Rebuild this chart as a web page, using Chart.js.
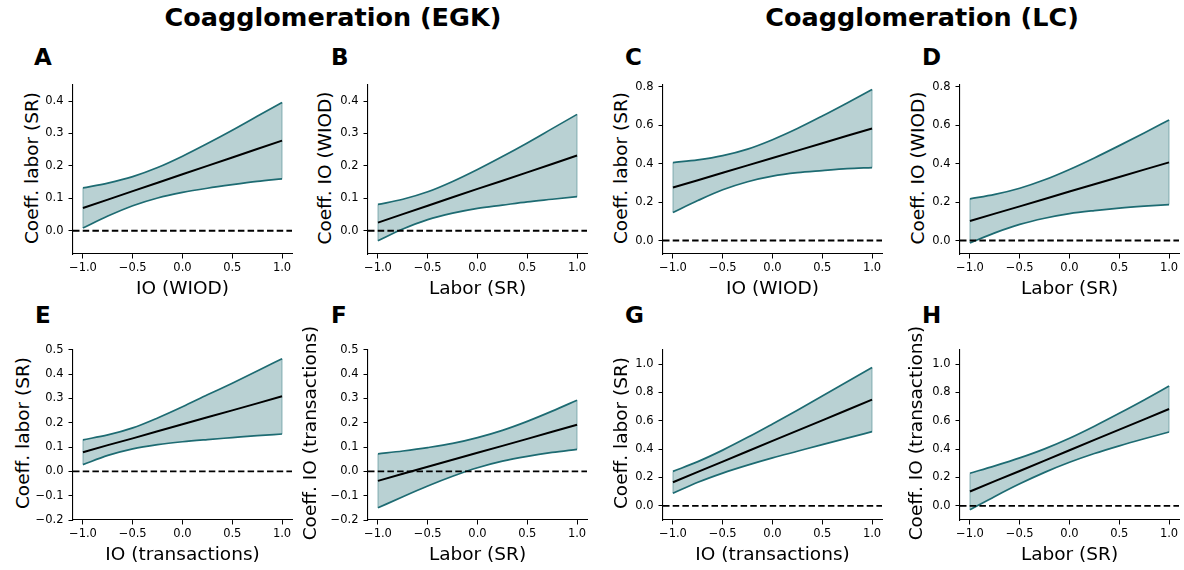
<!DOCTYPE html>
<html>
<head>
<meta charset="utf-8">
<script src="https://cdn.jsdelivr.net/npm/chart.js@4.4.1/dist/chart.umd.min.js"></script>
<style>
  html, body { margin: 0; padding: 0; background: #fff; }
  body { width: 1184px; height: 570px; position: relative; overflow: hidden; font-family: "DejaVu Sans", sans-serif; color: #000; }
  canvas { position: absolute; }
  .title { position: absolute; font-weight: bold; font-size: 25.5px; line-height: 1; white-space: nowrap; transform: translateX(-50%); }
  .letter { position: absolute; font-weight: bold; font-size: 23px; line-height: 1; }
  .ylab { position: absolute; width: 0; height: 0; }
  .ylab span { position: absolute; left: 0; top: 0; white-space: nowrap; font-size: 18.5px; line-height: 1; transform: translate(-50%, -50%) rotate(-90deg); }
</style>
</head>
<body>
<script>
// ---------- data ----------
const xVals = [-1, -0.75, -0.5, -0.25, 0, 0.25, 0.5, 0.75, 1];

const meanA  = [0.070, 0.096, 0.122, 0.148, 0.174, 0.200, 0.226, 0.252, 0.278];
const upperA = [0.132, 0.147, 0.167, 0.195, 0.230, 0.269, 0.310, 0.353, 0.396];
const lowerA = [0.008, 0.045, 0.077, 0.101, 0.118, 0.131, 0.142, 0.152, 0.160];

const meanB  = [0.025, 0.051, 0.077, 0.103, 0.129, 0.154, 0.180, 0.206, 0.232];
const upperB = [0.081, 0.097, 0.120, 0.152, 0.189, 0.229, 0.271, 0.315, 0.359];
const lowerB = [-0.031, 0.005, 0.034, 0.054, 0.069, 0.079, 0.089, 0.097, 0.105];

const meanC  = [0.276, 0.314, 0.353, 0.391, 0.430, 0.468, 0.506, 0.545, 0.583];
const upperC = [0.406, 0.420, 0.442, 0.476, 0.525, 0.583, 0.648, 0.716, 0.786];
const lowerC = [0.146, 0.208, 0.264, 0.306, 0.335, 0.353, 0.364, 0.374, 0.380];

const meanD  = [0.102, 0.140, 0.178, 0.216, 0.255, 0.293, 0.331, 0.369, 0.407];
const upperD = [0.217, 0.240, 0.272, 0.316, 0.370, 0.430, 0.494, 0.560, 0.627];
const lowerD = [-0.013, 0.040, 0.084, 0.116, 0.140, 0.156, 0.169, 0.179, 0.187];

const meanE  = [0.079, 0.108, 0.136, 0.165, 0.194, 0.223, 0.251, 0.280, 0.309];
const upperE = [0.130, 0.150, 0.179, 0.220, 0.266, 0.315, 0.363, 0.413, 0.464];
const lowerE = [0.028, 0.066, 0.093, 0.110, 0.122, 0.131, 0.139, 0.147, 0.154];

const meanF  = [-0.039, -0.010, 0.019, 0.048, 0.077, 0.105, 0.134, 0.163, 0.192];
const upperF = [0.072, 0.084, 0.098, 0.115, 0.139, 0.169, 0.206, 0.248, 0.293];
const lowerF = [-0.150, -0.104, -0.060, -0.020, 0.015, 0.042, 0.062, 0.078, 0.091];

const meanG  = [0.166, 0.239, 0.312, 0.385, 0.458, 0.530, 0.603, 0.676, 0.749];
const upperG = [0.243, 0.312, 0.393, 0.483, 0.578, 0.675, 0.774, 0.875, 0.976];
const lowerG = [0.089, 0.166, 0.231, 0.287, 0.338, 0.385, 0.432, 0.478, 0.523];

const meanH  = [0.101, 0.174, 0.246, 0.319, 0.392, 0.465, 0.538, 0.610, 0.683];
const upperH = [0.230, 0.282, 0.338, 0.402, 0.477, 0.562, 0.653, 0.747, 0.845];
const lowerH = [-0.028, 0.066, 0.155, 0.236, 0.307, 0.369, 0.423, 0.473, 0.521];

const xTicks   = [-1, -0.5, 0, 0.5, 1];
const yTicksAB = [0, 0.1, 0.2, 0.3, 0.4];
const yTicksCD = [0, 0.2, 0.4, 0.6, 0.8];
const yTicksEF = [-0.2, -0.1, 0, 0.1, 0.2, 0.3, 0.4, 0.5];
const yTicksGH = [0, 0.2, 0.4, 0.6, 0.8, 1.0];

const xRange   = [-1.1, 1.1];
const yRangeAB = [-0.072, 0.45];
const yRangeCD = [-0.07, 0.81];
const yRangeEF = [-0.2, 0.5];
const yRangeGH = [-0.1, 1.1];

const panelLetters = ["A", "B", "C", "D", "E", "F", "G", "H"];
const xLabels = ["IO (WIOD)", "Labor (SR)", "IO (WIOD)", "Labor (SR)",
                 "IO (transactions)", "Labor (SR)", "IO (transactions)", "Labor (SR)"];
const yLabels = ["Coeff. labor (SR)", "Coeff. IO (WIOD)", "Coeff. labor (SR)", "Coeff. IO (WIOD)",
                 "Coeff. labor (SR)", "Coeff. IO (transactions)", "Coeff. labor (SR)", "Coeff. IO (transactions)"];
const groupTitles = ["Coagglomeration (EGK)", "Coagglomeration (LC)"];

// ---------- layout / style ----------
const TEAL = "#1d6b72";
const FILL = "rgba(29,107,114,0.31)";
const EDGE = "rgba(29,107,114,0.35)";
const FONT = "'DejaVu Sans', sans-serif";

const panels = [
  {mean: meanA, up: upperA, lo: lowerA, yt: yTicksAB, yr: yRangeAB, L: 73,  T: 81,  H: 173, ylx: 32,    lx: 34,  ly: 45.5},
  {mean: meanB, up: upperB, lo: lowerB, yt: yTicksAB, yr: yRangeAB, L: 368, T: 81,  H: 173, ylx: 325,   lx: 331, ly: 45.5},
  {mean: meanC, up: upperC, lo: lowerC, yt: yTicksCD, yr: yRangeCD, L: 663, T: 81,  H: 173, ylx: 620.5, lx: 625, ly: 45.5},
  {mean: meanD, up: upperD, lo: lowerD, yt: yTicksCD, yr: yRangeCD, L: 960, T: 81,  H: 173, ylx: 917.5, lx: 922, ly: 45.5},
  {mean: meanE, up: upperE, lo: lowerE, yt: yTicksEF, yr: yRangeEF, L: 73,  T: 346, H: 174, ylx: 22.5,  lx: 35,  ly: 303.5},
  {mean: meanF, up: upperF, lo: lowerF, yt: yTicksEF, yr: yRangeEF, L: 368, T: 346, H: 174, ylx: 310,   lx: 331, ly: 303.5},
  {mean: meanG, up: upperG, lo: lowerG, yt: yTicksGH, yr: yRangeGH, L: 663, T: 346, H: 174, ylx: 620.5, lx: 625, ly: 303.5},
  {mean: meanH, up: upperH, lo: lowerH, yt: yTicksGH, yr: yRangeGH, L: 960, T: 346, H: 174, ylx: 916,   lx: 922, ly: 303.5}
];
const W = 219, WY = 48, PT = 8, PR = 10, HX = 46;

// titles
[[groupTitles[0], 333], [groupTitles[1], 922]].forEach(([t, cx]) => {
  const d = document.createElement('div');
  d.className = 'title'; d.textContent = t;
  d.style.left = cx + 'px'; d.style.top = '5px';
  document.body.appendChild(d);
});

const fmt = v => Number(v).toFixed(1).replace('-', '\u2212');
const pts = arr => xVals.map((x, i) => ({x: x, y: arr[i]}));
const last = xVals.length - 1;

panels.forEach((p, i) => {
  const letter = document.createElement('div');
  letter.className = 'letter'; letter.textContent = panelLetters[i];
  letter.style.left = p.lx + 'px'; letter.style.top = p.ly + 'px';
  document.body.appendChild(letter);

  const yl = document.createElement('div');
  yl.className = 'ylab';
  yl.style.left = p.ylx + 'px'; yl.style.top = (p.T + p.H / 2) + 'px';
  const sp = document.createElement('span'); sp.textContent = yLabels[i];
  yl.appendChild(sp);
  document.body.appendChild(yl);

  const c = document.createElement('canvas');
  c.width = WY + W + PR; c.height = PT + p.H + HX;
  c.style.left = (p.L - WY) + 'px'; c.style.top = (p.T - PT) + 'px';
  document.body.appendChild(c);

  const axisCommon = {
    grid: {display: true, drawOnChartArea: false, drawTicks: true, tickLength: 4.5, color: '#000', lineWidth: 1},
    border: {display: true, color: '#000', width: 1.1},
  };

  new Chart(c.getContext('2d'), {
    type: 'scatter',
    data: {
      datasets: [
        {data: pts(p.up), showLine: true, borderColor: TEAL, borderWidth: 1.7, pointRadius: 0,
         fill: '+1', backgroundColor: FILL, cubicInterpolationMode: 'monotone', order: 5},
        {data: pts(p.lo), showLine: true, borderColor: TEAL, borderWidth: 1.7, pointRadius: 0,
         fill: false, cubicInterpolationMode: 'monotone', order: 4},
        {data: [{x: xVals[0], y: p.lo[0]}, {x: xVals[0], y: p.up[0]}], showLine: true, borderColor: EDGE,
         borderWidth: 1.3, pointRadius: 0, fill: false, order: 3},
        {data: [{x: xVals[last], y: p.lo[last]}, {x: xVals[last], y: p.up[last]}], showLine: true, borderColor: EDGE,
         borderWidth: 1.3, pointRadius: 0, fill: false, order: 3},
        {data: pts(p.mean), showLine: true, borderColor: '#000', borderWidth: 2, pointRadius: 0, fill: false, order: 1},
        {data: [{x: xRange[0], y: 0}, {x: xRange[1], y: 0}], showLine: true, borderColor: '#000',
         borderWidth: 1.9, borderDash: [6.5, 3.2], pointRadius: 0, fill: false, order: 0}
      ]
    },
    options: {
      responsive: false,
      animation: false,
      events: [],
      layout: {padding: {top: PT, right: PR, left: 0, bottom: 0}},
      plugins: {legend: {display: false}, tooltip: {enabled: false}},
      scales: {
        x: Object.assign({}, axisCommon, {
          type: 'linear', min: xRange[0], max: xRange[1],
          afterBuildTicks: s => { s.ticks = xTicks.map(v => ({value: v})); },
          afterFit: s => { s.height = HX; },
          ticks: {font: {family: FONT, size: 11.5}, color: '#000', padding: 3, maxRotation: 0, autoSkip: false, callback: fmt},
          title: {display: true, text: xLabels[i], font: {family: FONT, size: 18.5}, color: '#000', padding: 0}
        }),
        y: Object.assign({}, axisCommon, {
          type: 'linear', min: p.yr[0], max: p.yr[1],
          afterBuildTicks: s => { s.ticks = p.yt.map(v => ({value: v})); },
          afterFit: s => { s.width = WY; },
          ticks: {font: {family: FONT, size: 11.5}, color: '#000', padding: 5, autoSkip: false, callback: fmt},
          title: {display: false}
        })
      }
    }
  });
});
</script>
</body>
</html>
